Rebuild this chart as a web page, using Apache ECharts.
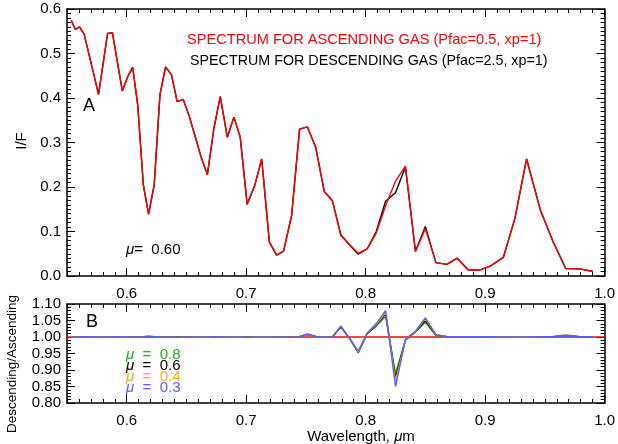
<!DOCTYPE html>
<html>
<head>
<meta charset="utf-8">
<script src="https://cdn.jsdelivr.net/npm/echarts@6/dist/echarts.min.js"></script>
<style>
html,body{margin:0;padding:0;background:#fff;}
#chart{width:618px;height:444px;}
</style>
</head>
<body>
<div id="chart"></div>
<script>
// ---- data ----
const wavelength = [0.5536,0.557,0.5605,0.5644,0.5764,0.584,0.588,0.5963,0.6008,0.605,
  0.6092,0.6139,0.6183,0.623,0.6278,0.6325,0.6375,0.6422,0.6472,0.652,
  0.6578,0.6625,0.6675,0.673,0.6783,0.6842,0.6897,0.695,0.7008,0.707,
  0.713,0.7194,0.7255,0.7313,0.738,0.7447,0.7513,0.7583,0.7653,0.7722,
  0.7792,0.7867,0.7938,0.8013,0.8088,0.8167,0.825,0.8333,0.8417,0.85,
  0.8588,0.868,0.8767,0.8857,0.8953,0.9042,0.9153,0.925,0.9347,0.9464,
  0.9569,0.9675,0.9792,0.9903];
const ascending = [0.574,0.554,0.560,0.543,0.408,0.545,0.547,0.416,0.448,0.469,
  0.384,0.205,0.139,0.205,0.407,0.470,0.452,0.392,0.397,0.362,
  0.309,0.265,0.228,0.332,0.403,0.312,0.357,0.312,0.161,0.202,
  0.263,0.076,0.047,0.056,0.136,0.330,0.335,0.288,0.190,0.169,
  0.091,0.070,0.051,0.061,0.096,0.158,0.213,0.247,0.055,0.106,
  0.030,0.026,0.040,0.014,0.013,0.022,0.042,0.130,0.263,0.147,
  0.077,0.017,0.016,0.010];
const descending = [0.574,0.554,0.560,0.543,0.408,0.545,0.547,0.416,0.448,0.469,
  0.384,0.205,0.139,0.205,0.407,0.470,0.452,0.392,0.397,0.362,
  0.309,0.265,0.228,0.332,0.403,0.312,0.357,0.312,0.161,0.202,
  0.263,0.076,0.047,0.056,0.136,0.330,0.335,0.288,0.190,0.169,
  0.093,0.069,0.049,0.061,0.0995,0.168,0.187,0.245,0.0555,0.111,
  0.030,0.026,0.040,0.014,0.013,0.022,0.042,0.130,0.263,0.147,
  0.077,0.017,0.016,0.010];
const ratioMu08 = [1.000,1.000,1.000,1.001,1.000,1.000,1.001,1.000,1.000,1.000,
  1.000,1.001,1.002,1.001,1.000,1.000,1.000,0.999,1.000,1.000,
  1.000,1.000,1.000,1.001,1.000,1.000,1.000,1.000,0.999,1.000,
  1.000,1.000,1.000,1.000,0.999,1.001,1.007,1.002,1.000,1.000,
  1.030,0.996,0.952,1.010,1.033,1.062,0.890,0.990,1.015,1.044,
  1.005,1.001,1.001,1.001,1.001,1.001,1.000,1.000,1.000,1.001,
  1.001,1.006,1.001,1.001];
const ratioMu06 = [1.000,1.000,1.000,1.001,1.000,1.000,1.001,1.000,1.000,1.000,
  1.000,1.001,1.002,1.001,1.000,1.000,1.000,0.999,1.000,1.000,
  1.000,1.000,1.000,1.001,1.000,1.000,1.000,1.000,0.999,1.000,
  1.000,1.000,1.000,1.000,0.999,1.001,1.008,1.002,1.000,1.000,
  1.031,0.995,0.954,1.011,1.035,1.070,0.877,0.991,1.016,1.050,
  1.006,1.001,1.001,1.001,1.001,1.001,1.000,1.000,1.000,1.001,
  1.001,1.004,1.001,1.001];
const ratioMu04 = [1.000,1.000,1.000,1.001,1.000,1.000,1.001,1.000,1.000,1.000,
  1.000,1.001,1.002,1.001,1.000,1.000,1.000,0.999,1.000,1.000,
  1.000,1.000,1.000,1.001,1.000,1.000,1.000,1.000,0.999,1.000,
  1.000,1.000,1.000,1.000,0.999,1.001,1.008,1.002,1.000,1.000,
  1.032,0.995,0.955,1.012,1.037,1.075,0.866,0.992,1.017,1.055,
  1.007,1.001,1.001,1.001,1.001,1.001,1.000,1.000,1.000,1.001,
  1.001,1.003,1.001,1.001];
const ratioMu03 = [1.000,1.000,1.000,1.001,1.000,1.000,1.001,1.000,1.000,1.000,
  1.000,1.001,1.002,1.001,1.000,1.000,1.000,0.999,1.000,1.000,
  1.000,1.000,1.000,1.001,1.000,1.000,1.000,1.000,0.999,1.000,
  1.000,1.000,1.000,1.000,0.999,1.001,1.009,1.002,1.000,1.000,
  1.033,0.994,0.957,1.012,1.040,1.080,0.850,0.993,1.018,1.058,
  1.007,1.001,1.001,1.001,1.001,1.001,1.000,1.000,1.000,1.001,
  1.001,1.003,1.001,1.001];
const unityWave = [0.55, 1.0];
const unityRatio = [1.0, 1.0];
const xTickValues = [0.6, 0.7, 0.8, 0.9, 1.0];
const muLabels = ['0.8', '0.6', '0.4', '0.3'];
const muColors = ['#20b020', '#000000', '#ffb000', '#5a5aff'];

// ---- chart ----
const FONT = '"Liberation Sans", Arial, sans-serif';
const pairs = (xs, ys) => xs.map((x, i) => [x, ys[i]]);

function xMajor(grid, position, showLabel) {
  return {
    type: 'value', gridIndex: grid, position: position, min: 0.55, max: 1.0,
    splitLine: {show: false},
    axisLine: {show: true, onZero: false, lineStyle: {color: '#000', width: 1.5}},
    axisTick: {show: true, inside: true, length: 8, customValues: xTickValues, lineStyle: {color: '#000', width: 1}},
    axisLabel: {show: showLabel, customValues: xTickValues, margin: 10, color: '#000', fontSize: 15, fontFamily: FONT,
      formatter: v => v.toFixed(1)}
  };
}
function xMinor(grid, position) {
  return {
    type: 'value', gridIndex: grid, position: position, min: 0.55, max: 1.0, interval: 0.01,
    splitLine: {show: false},
    axisLine: {show: false, onZero: false},
    axisTick: {show: true, inside: true, length: 4, lineStyle: {color: '#000', width: 1}},
    axisLabel: {show: false}
  };
}
function yAxis(grid, position, min, max, interval, minorSplit, digits, showLabel) {
  return {
    type: 'value', gridIndex: grid, position: position, min: min, max: max, interval: interval,
    splitLine: {show: false},
    axisLine: {show: true, onZero: false, lineStyle: {color: '#000', width: 1.5}},
    axisTick: {show: true, inside: true, length: 8, lineStyle: {color: '#000', width: 1}},
    minorTick: {show: true, splitNumber: minorSplit, length: 4, lineStyle: {color: '#000', width: 1}},
    axisLabel: {show: showLabel, margin: 6, color: '#000', fontSize: 15, fontFamily: FONT,
      formatter: v => v.toFixed(digits)}
  };
}

const lineSeries = (xi, yi, data, color, width) => ({
  type: 'line', xAxisIndex: xi, yAxisIndex: yi, data: data, symbol: 'none',
  lineStyle: {color: color, width: width}, itemStyle: {color: color}, silent: true
});

const muText = (i, y) => ({
  type: 'text', x: 126, y: y,
  style: {
    text: '{i|μ}  =  ' + muLabels[i], fill: muColors[i], font: '15px ' + FONT,
    align: 'left', verticalAlign: 'middle',
    rich: {i: {font: 'italic 15px ' + FONT, fill: muColors[i]}}
  }
});

const option = {
  animation: false,
  backgroundColor: '#fff',
  grid: [
    {left: 67, right: 11, top: 9, height: 267},
    {left: 67, right: 11, top: 304, height: 99}
  ],
  xAxis: [
    xMajor(0, 'bottom', true), xMinor(0, 'bottom'),
    xMajor(0, 'top', false), xMinor(0, 'top'),
    xMajor(1, 'bottom', true), xMinor(1, 'bottom'),
    xMajor(1, 'top', false), xMinor(1, 'top')
  ],
  yAxis: [
    yAxis(0, 'left', 0, 0.6, 0.1, 10, 1, true),
    yAxis(0, 'right', 0, 0.6, 0.1, 10, 1, false),
    yAxis(1, 'left', 0.8, 1.1, 0.05, 5, 2, true),
    yAxis(1, 'right', 0.8, 1.1, 0.05, 5, 2, false)
  ],
  series: [
    lineSeries(0, 0, pairs(wavelength, descending), '#000000', 1.4),
    lineSeries(0, 0, pairs(wavelength, ascending), '#ff0000', 1.4),
    lineSeries(4, 2, pairs(unityWave, unityRatio), '#ff0000', 1.4),
    lineSeries(4, 2, pairs(wavelength, ratioMu08), muColors[0], 1.4),
    lineSeries(4, 2, pairs(wavelength, ratioMu06), muColors[1], 1.4),
    lineSeries(4, 2, pairs(wavelength, ratioMu04), muColors[2], 1.4),
    lineSeries(4, 2, pairs(wavelength, ratioMu03), muColors[3], 1.4)
  ],
  graphic: [
    {type: 'text', x: 187, y: 40, style: {text: 'SPECTRUM FOR ASCENDING GAS (Pfac=0.5, xp=1)', fill: '#ff0000',
      font: '14.6px ' + FONT, align: 'left', verticalAlign: 'middle'}},
    {type: 'text', x: 190, y: 61, style: {text: 'SPECTRUM FOR DESCENDING GAS (Pfac=2.5, xp=1)', fill: '#000',
      font: '14.3px ' + FONT, align: 'left', verticalAlign: 'middle'}},
    {type: 'text', x: 83, y: 106, style: {text: 'A', fill: '#000', font: '18px ' + FONT, align: 'left', verticalAlign: 'middle'}},
    {type: 'text', x: 126, y: 250, style: {text: '{i|μ}=  0.60', fill: '#000', font: '15px ' + FONT,
      align: 'left', verticalAlign: 'middle', rich: {i: {font: 'italic 15px ' + FONT, fill: '#000'}}}},
    {type: 'text', x: 86, y: 322, style: {text: 'B', fill: '#000', font: '18px ' + FONT, align: 'left', verticalAlign: 'middle'}},
    muText(0, 355), muText(1, 366), muText(2, 377), muText(3, 388),
    {type: 'text', x: 22, y: 141, rotation: Math.PI / 2, style: {text: 'I/F', fill: '#000', font: '15px ' + FONT,
      align: 'center', verticalAlign: 'middle'}},
    {type: 'text', x: 12, y: 364, rotation: Math.PI / 2, style: {text: 'Descending/Ascending', fill: '#000', font: '13.5px ' + FONT,
      align: 'center', verticalAlign: 'middle'}},
    {type: 'text', x: 361, y: 437, style: {text: 'Wavelength, {i|μ}m', fill: '#000', font: '15px ' + FONT,
      align: 'center', verticalAlign: 'middle', rich: {i: {font: 'italic 15px ' + FONT, fill: '#000'}}}}
  ]
};

const chart = echarts.init(document.getElementById('chart'), null, {renderer: 'canvas'});
chart.setOption(option);
</script>
</body>
</html>
